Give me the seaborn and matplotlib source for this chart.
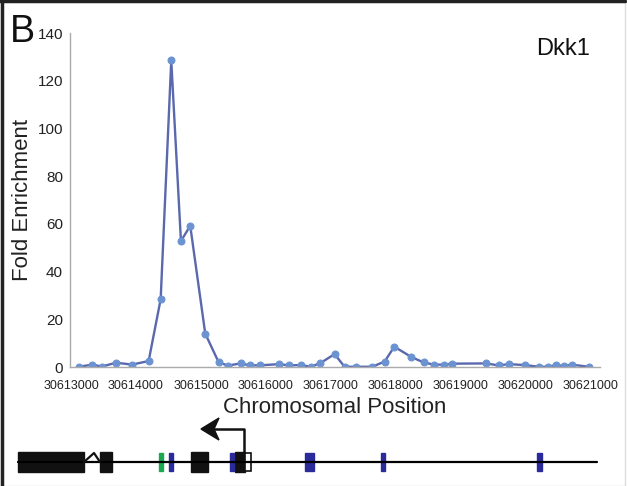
import matplotlib
matplotlib.use("Agg")
import matplotlib.pyplot as plt
from matplotlib.patches import Rectangle, Polygon
import seaborn as sns
import pandas as pd

# ChIP fold enrichment along the Dkk1 locus
position = [30613123, 30613328, 30613472, 30613697, 30613938, 30614195, 30614380,
            30614543, 30614692, 30614835, 30615066, 30615272, 30615415, 30615610,
            30615748, 30615903, 30616205, 30616348, 30616543, 30616687, 30616835,
            30617056, 30617210, 30617380, 30617636, 30617826, 30617975, 30618237,
            30618426, 30618585, 30618733, 30618862, 30619380, 30619580, 30619738,
            30619990, 30620200, 30620333, 30620457, 30620585, 30620703, 30620965]
fold = [0.1, 1.0, 0.2, 1.8, 1.0, 2.5, 28.4,
        128.5, 52.8, 59.2, 14.0, 2.0, 0.6, 1.5,
        0.7, 0.7, 1.2, 0.7, 0.8, 0.1, 1.6,
        5.4, 0.1, 0.1, 0.1, 2.3, 8.5, 4.2,
        1.9, 1.0, 1.0, 1.4, 1.5, 0.7, 1.2,
        0.8, 0.1, 0.1, 0.7, 0.5, 1.0, 0.1]
xticks = list(range(30613000, 30621001, 1000))
yticks = list(range(0, 141, 20))

# gene schematic (schematic units, same scale as figure width)
black_exons = [(18, 84), (100, 112), (191, 208), (235, 245)]
open_exon = (245, 251)
blue_marks = [(169, 173), (230, 234), (305, 314), (381, 385), (537, 542)]
green_marks = [(159, 163)]
line_span = (18, 597)

df = pd.DataFrame({"pos": position, "fold": fold})

sns.set_style("white")
plt.rcParams["font.family"] = ["Liberation Sans", "DejaVu Sans"]

fig = plt.figure(figsize=(6.27, 4.86), dpi=100)
W, H = 627, 486
ax = fig.add_axes([70 / W, (H - 367) / H, 530 / W, 334 / H])

sns.lineplot(data=df, x="pos", y="fold", ax=ax, color="#5a68ae", linewidth=1.7,
             marker="o", markersize=5, markerfacecolor="#6b93d2",
             markeredgecolor="#6b93d2")

ax.set_xlim(30612985, 30621140)
ax.set_ylim(0, 140)
ax.set_xticks(xticks)
ax.set_xticklabels([str(t) for t in xticks], fontsize=9, color="#222222")
ax.set_yticks(yticks)
ax.set_yticklabels([str(t) for t in yticks], fontsize=11, color="#222222")
ax.tick_params(direction="in", length=3, color="#aaaaaa")
ax.tick_params(axis="x", pad=9)
ax.tick_params(axis="y", pad=5)
for s in ["top", "right"]:
    ax.spines[s].set_visible(False)
for s in ["left", "bottom"]:
    ax.spines[s].set_color("#aaaaaa")
    ax.spines[s].set_linewidth(1.0)
ax.set_xlabel("Chromosomal Position", fontsize=16, color="#222222", labelpad=4)
ax.set_ylabel("Fold Enrichment", fontsize=16, color="#222222", labelpad=3)

fig.text(10 / W, 1 - 42 / H, "B", fontsize=27, color="#111111")
fig.text(590 / W, 1 - 55 / H, "Dkk1", fontsize=17, color="#111111", ha="right")

# gene diagram axes
gx = fig.add_axes([0, 0, 1, 1], zorder=-1)
gx.set_xlim(0, W)
gx.set_ylim(H, 0)
gx.axis("off")
yc = 462
gx.plot(line_span, [yc, yc], color="black", linewidth=1.6)
for a, b in black_exons:
    gx.add_patch(Rectangle((a, 452), b - a, 20, color="#111111"))
gx.add_patch(Rectangle((open_exon[0], 453), open_exon[1] - open_exon[0], 18,
                       facecolor="white", edgecolor="#111111", linewidth=1.2))
for a, b in blue_marks:
    gx.add_patch(Rectangle((a, 453), b - a, 18, color="#2a2a9a"))
for a, b in green_marks:
    gx.add_patch(Rectangle((a, 453), b - a, 18, color="#1aa850"))
# intron caret
gx.plot([84, 94, 100], [462, 453, 462], color="#111111", linewidth=1.6)
# transcription start arrow
gx.plot([244, 244, 214], [452, 429, 429], color="#111111", linewidth=1.8)
gx.add_patch(Polygon([[201, 429], [219, 418], [214, 429], [219, 440]],
                     closed=True, color="#111111"))

# panel frame
fig.patches.append(Rectangle((0.5 / W, 0), 624 / W, 1 - 1.5 / H, transform=fig.transFigure,
                             fill=False, edgecolor="#dddddd", linewidth=1))
fig.lines.append(plt.Line2D([1.5 / W, 1.5 / W], [0, 1], transform=fig.transFigure,
                            color="#222222", linewidth=2.5))
fig.lines.append(plt.Line2D([0, 625 / W], [1 - 1 / H, 1 - 1 / H], transform=fig.transFigure,
                            color="#222222", linewidth=2.5))

fig.savefig("out.png", dpi=100)
